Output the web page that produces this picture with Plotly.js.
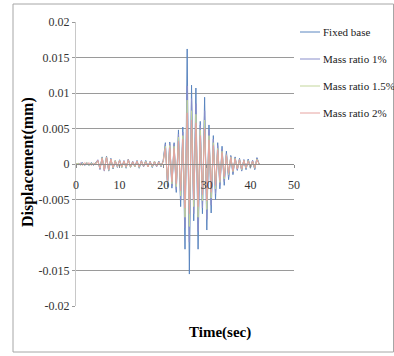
<!DOCTYPE html>
<html>
<head>
<meta charset="utf-8">
<script src="https://cdn.plot.ly/plotly-3.0.1.min.js"></script>
<style>html,body{margin:0;padding:0;background:#fff;}#chart{width:394px;height:356px;}</style>
</head>
<body>
<div id="chart"></div>
<script>
var time = [0,0.5,1,1.5,2,2.5,3,3.5,4,4.5,5,5.5,6,6.5,7,7.5,8,8.5,9,9.5,10,10.5,11,11.5,12,12.5,13,13.5,14,14.5,15,15.5,16,16.5,17,17.5,18,18.5,19,19.5,20,20.5,21,21.5,22,22.5,23,23.5,24,24.5,25,25.5,26,26.5,27,27.5,28,28.5,29,29.5,30,30.5,31,31.5,32,32.5,33,33.5,34,34.5,35,35.5,36,36.5,37,37.5,38,38.5,39,39.5,40,40.5,41,41.5,42];

var fixedBase = [0,0.0001,-0.0001,0.0002,-0.0002,0.0001,-0.0002,0.0002,-0.0001,0.0002,
 0.0005,-0.0007,0.0010,-0.0009,0.0011,-0.0010,0.0008,-0.0007,0.0005,
 -0.0004,0.0006,-0.0005,0.0004,-0.0006,0.0007,-0.0005,0.0003,-0.0004,0.0005,-0.0006,0.0004,-0.0003,0.0005,-0.0004,0.0003,-0.0005,0.0004,-0.0003,0.0004,-0.0003,0.0005,
 0.0030,-0.0032,0.0031,-0.0034,0.0030,-0.0040,0.0048,-0.0060,0.0052,-0.0120,0.0162,-0.0155,0.0111,-0.0080,0.0107,-0.0120,0.0060,-0.0070,0.0094,-0.0093,
 0.0055,-0.0069,0.0040,-0.0050,0.0030,-0.0035,0.0025,-0.0030,0.0018,-0.0022,0.0012,-0.0015,0.0010,-0.0009,0.0008,-0.0010,0.0006,-0.0008,0.0007,-0.0006,
 0.0005,-0.0008,0.0009,0];

var massRatio1 = [0,-0.0001,0.0001,0.0002,-0.0001,0.0002,-0.0001,0.0001,-0.0002,0.0001,
 0.0006,-0.0008,0.0009,-0.0010,0.0010,-0.0009,0.0007,-0.0006,0.0004,
 -0.0005,0.0005,-0.0004,0.0005,-0.0005,0.0006,-0.0004,0.0004,-0.0003,0.0004,-0.0005,0.0005,-0.0004,0.0004,-0.0003,0.0004,-0.0004,0.0003,-0.0004,0.0003,-0.0004,0.0004,
 0.0028,-0.0030,0.0029,-0.0031,0.0028,-0.0036,0.0042,-0.0050,0.0045,-0.0090,0.0110,-0.0110,0.0092,-0.0070,0.0085,-0.0095,0.0055,-0.0062,0.0075,-0.0078,
 0.0048,-0.0058,0.0035,-0.0042,0.0026,-0.0030,0.0021,-0.0025,0.0015,-0.0018,0.0011,-0.0013,0.0009,-0.0008,0.0007,-0.0009,0.0006,-0.0007,0.0006,-0.0005,
 0.0005,-0.0007,0.0008,0];

var massRatio15 = [0,0.0001,-0.0002,0.0001,-0.0001,0.0002,-0.0002,0.0001,-0.0001,0.0002,
 0.0004,-0.0006,0.0009,-0.0008,0.0010,-0.0009,0.0007,-0.0006,0.0005,
 -0.0004,0.0005,-0.0005,0.0004,-0.0005,0.0006,-0.0005,0.0003,-0.0004,0.0004,-0.0005,0.0004,-0.0003,0.0004,-0.0004,0.0003,-0.0004,0.0004,-0.0003,0.0003,-0.0003,0.0004,
 0.0025,-0.0027,0.0026,-0.0028,0.0025,-0.0032,0.0038,-0.0045,0.0040,-0.0075,0.0090,-0.0088,0.0075,-0.0060,0.0070,-0.0075,0.0048,-0.0052,0.0062,-0.0064,
 0.0040,-0.0048,0.0030,-0.0035,0.0022,-0.0026,0.0018,-0.0021,0.0013,-0.0015,0.0010,-0.0011,0.0008,-0.0007,0.0006,-0.0008,0.0005,-0.0006,0.0005,-0.0005,
 0.0004,-0.0006,0.0007,0];

var massRatio2 = [0,-0.0001,0.0001,-0.0002,0.0002,-0.0001,0.0002,-0.0002,0.0001,-0.0001,
 0.0005,-0.0006,0.0008,-0.0009,0.0009,-0.0008,0.0007,-0.0005,0.0004,
 -0.0003,0.0005,-0.0004,0.0004,-0.0004,0.0006,-0.0004,0.0003,-0.0003,0.0004,-0.0004,0.0004,-0.0003,0.0003,-0.0004,0.0003,-0.0003,0.0003,-0.0003,0.0003,-0.0002,0.0003,
 0.0022,-0.0024,0.0023,-0.0025,0.0022,-0.0028,0.0032,-0.0038,0.0035,-0.0062,0.0072,-0.0070,0.0062,-0.0050,0.0058,-0.0060,0.0040,-0.0043,0.0050,-0.0052,
 0.0034,-0.0040,0.0026,-0.0030,0.0020,-0.0023,0.0016,-0.0018,0.0012,-0.0013,0.0009,-0.0010,0.0007,-0.0007,0.0006,-0.0007,0.0005,-0.0005,0.0004,-0.0004,
 0.0004,-0.0005,0.0006,0];

var seriesNames = ["Fixed base","Mass ratio 1%","Mass ratio 1.5%","Mass ratio 2%"];
var seriesColors = ["#5B86C0","#8A8FCB","#C3D69B","#E6A3A0"];
var xTickVals = [0,10,20,30,40,50];
var xTickText = ["0","10","20","30","40","50"];
var yTickVals = [-0.02,-0.015,-0.01,-0.005,0,0.005,0.01,0.015,0.02];
var yTickText = ["-0.02","-0.015","-0.01","-0.005","0","0.005","0.01","0.015","0.02"];

var allSeries = [fixedBase, massRatio1, massRatio15, massRatio2];
var serif = "Liberation Serif, Times New Roman, serif";
var traces = allSeries.map(function(s, i){
  return {x: time, y: s, type: "scatter", mode: "lines", name: seriesNames[i],
          line: {color: seriesColors[i], width: 1}};
});

// plot-area pixel geometry: x 76..294, y 22..306
function px(x){ return (x - 76) / 218; }
function py(y){ return (306 - y) / 284; }

var legendRowsY = [32, 59, 86, 113];
var annotations = [
  {text: "<b>Displacement(mm)</b>", xref: "paper", yref: "paper",
   x: px(28), y: py(162), textangle: -90, showarrow: false,
   xanchor: "center", yanchor: "middle", font: {family: serif, size: 16, color: "#000"}},
  {text: "<b>Time(sec)</b>", xref: "paper", yref: "paper",
   x: px(220), y: py(332), showarrow: false,
   xanchor: "center", yanchor: "middle", font: {family: serif, size: 15, color: "#000"}}
];
var shapes = [
  {type: "rect", xref: "paper", yref: "paper",
   x0: px(13), x1: px(393.5), y0: py(352), y1: py(4),
   line: {color: "#a6a6a6", width: 1}, fillcolor: "rgba(0,0,0,0)", layer: "below"}
];
seriesNames.forEach(function(n, i){
  annotations.push({text: n, xref: "paper", yref: "paper", x: px(321), y: py(legendRowsY[i]),
    xanchor: "left", yanchor: "middle", showarrow: false,
    font: {family: serif, size: 11, color: "#222"}});
  shapes.push({type: "line", xref: "paper", yref: "paper", x0: px(300), x1: px(320),
    y0: py(legendRowsY[i]), y1: py(legendRowsY[i]), line: {color: seriesColors[i], width: 1}});
});

var layout = {
  width: 394, height: 356,
  margin: {l: 76, r: 100, t: 22, b: 50, autoexpand: false},
  paper_bgcolor: "#ffffff", plot_bgcolor: "#ffffff",
  showlegend: false,
  xaxis: {range: [0, 50], tickvals: xTickVals, ticktext: xTickText,
          anchor: "free", position: 0.5,
          showgrid: false, zeroline: false, showline: true, linecolor: "#8c8c8c", linewidth: 1,
          ticks: "outside", ticklen: 3, tickcolor: "#8c8c8c",
          ticklabelstandoff: 7,
          tickfont: {family: serif, size: 12, color: "#333"}},
  yaxis: {range: [-0.02, 0.02], tickvals: yTickVals, ticktext: yTickText,
          showgrid: true, gridcolor: "#9a9a9a", gridwidth: 1, zeroline: false,
          showline: true, linecolor: "#c8c8c8", linewidth: 1,
          ticks: "outside", ticklen: 3, tickcolor: "#9a9a9a",
          tickfont: {family: serif, size: 12, color: "#333"}},
  annotations: annotations,
  shapes: shapes
};

Plotly.newPlot("chart", traces, layout, {displayModeBar: false, responsive: false});
</script>
</body>
</html>
